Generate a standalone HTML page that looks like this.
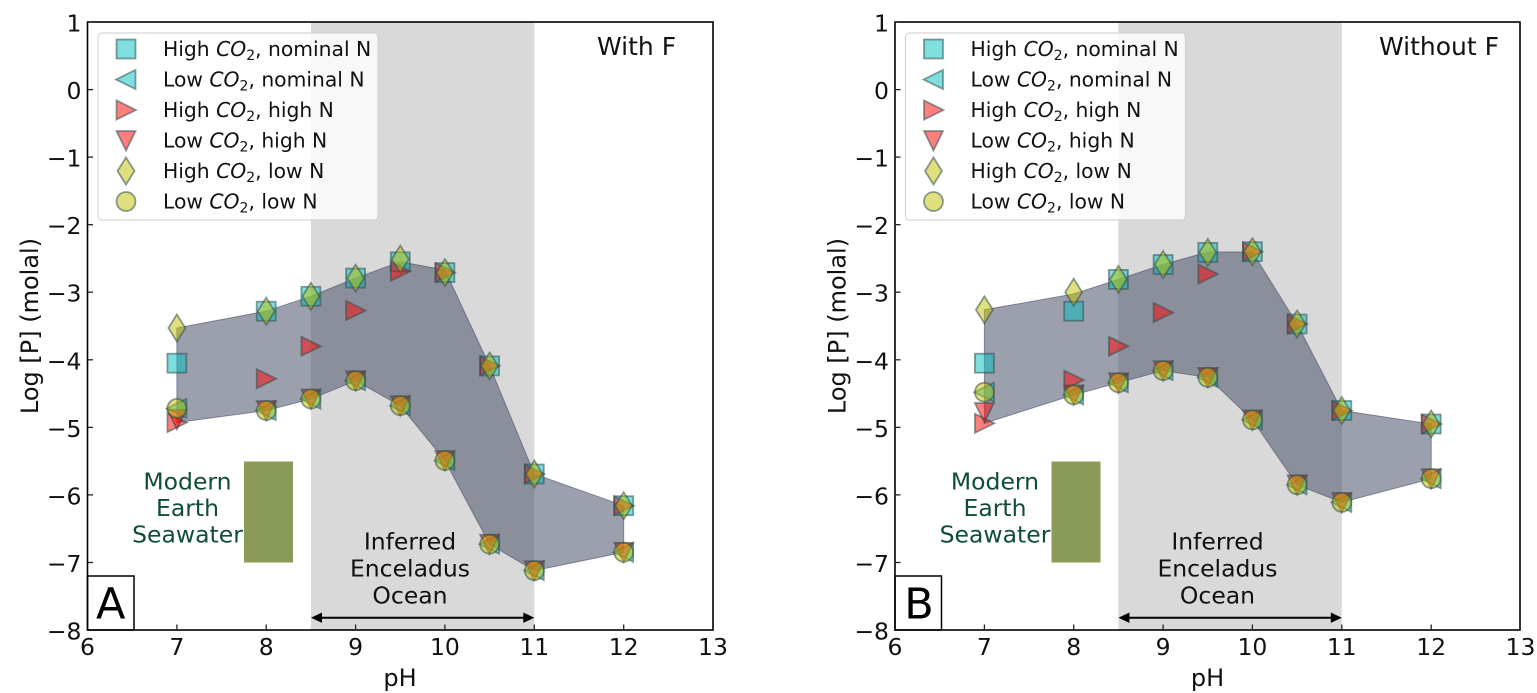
<!DOCTYPE html>
<html><head><meta charset="utf-8"><style>html,body{margin:0;padding:0;background:#fff}svg{display:block}</style></head>
<body>
<svg width="1537" height="693" viewBox="0 0 1537 693" xmlns="http://www.w3.org/2000/svg" font-family="'DejaVu Sans','Liberation Sans',sans-serif">
<defs>
<rect id="sq" x="-9.5" y="-9.5" width="19" height="19" fill="#00bfbf" fill-opacity="0.5" stroke="#2f4f4f" stroke-opacity="0.55" stroke-width="1.8"/>
<polygon id="lt" points="-10,0 9.5,-9.5 9.5,9.5" fill="#00bfbf" fill-opacity="0.5" stroke="#2f4f4f" stroke-opacity="0.55" stroke-width="1.8"/>
<polygon id="rt" points="10,0 -9.5,-9.5 -9.5,9.5" fill="#ff0000" fill-opacity="0.5" stroke="#2f4f4f" stroke-opacity="0.55" stroke-width="1.8"/>
<polygon id="dt" points="0,10 -9.5,-9.5 9.5,-9.5" fill="#ff0000" fill-opacity="0.5" stroke="#2f4f4f" stroke-opacity="0.55" stroke-width="1.8"/>
<polygon id="di" points="0,-13.5 8.5,0 0,13.5 -8.5,0" fill="#bfbf00" fill-opacity="0.5" stroke="#2f4f4f" stroke-opacity="0.55" stroke-width="1.8"/>
<circle id="ci" r="9.5" fill="#bfbf00" fill-opacity="0.5" stroke="#2f4f4f" stroke-opacity="0.55" stroke-width="1.8"/>
</defs>

<!-- ================= PANEL A ================= -->
<rect x="310.9" y="22" width="223.4" height="608" fill="#d9d9d9"/>
<rect x="244" y="461.5" width="49" height="101" fill="#8a9a58"/>
<polygon points="176.9,328 266.2,311.2 310.9,296.3 355.6,278.1 400.3,261.8 444.9,270 489.6,365.9 534.3,474 623.7,505.7 623.7,552.3 534.3,570.6 489.6,544.2 444.9,460.5 400.3,405.7 355.6,380.7 310.9,399 266.2,410.5 176.9,422.5" fill="#4a5068" fill-opacity="0.55" stroke="#4a5068" stroke-opacity="0.6" stroke-width="1"/>

<g>
<use href="#sq" x="176.9" y="363.2"/><use href="#lt" x="176.9" y="408.4"/><use href="#rt" x="176.9" y="422.5"/><use href="#dt" x="176.9" y="419.2"/><use href="#di" x="176.9" y="328"/><use href="#ci" x="176.9" y="408.4"/>
<use href="#sq" x="266.2" y="311.2"/><use href="#lt" x="266.2" y="410.5"/><use href="#rt" x="266.2" y="378.7"/><use href="#dt" x="266.2" y="410.5"/><use href="#di" x="266.2" y="311.2"/><use href="#ci" x="266.2" y="410.5"/>
<use href="#sq" x="310.9" y="296.3"/><use href="#lt" x="310.9" y="399"/><use href="#rt" x="310.9" y="346.3"/><use href="#dt" x="310.9" y="399"/><use href="#di" x="310.9" y="296.3"/><use href="#ci" x="310.9" y="399"/>
<use href="#sq" x="355.6" y="278.1"/><use href="#lt" x="355.6" y="380.7"/><use href="#rt" x="355.6" y="310.5"/><use href="#dt" x="355.6" y="380.7"/><use href="#di" x="355.6" y="278.1"/><use href="#ci" x="355.6" y="380.7"/>
<use href="#sq" x="400.3" y="261.8"/><use href="#lt" x="400.3" y="405.7"/><use href="#rt" x="400.3" y="271.3"/><use href="#dt" x="400.3" y="405.7"/><use href="#di" x="400.3" y="259.1"/><use href="#ci" x="400.3" y="405.7"/>
<use href="#sq" x="444.9" y="272.6"/><use href="#lt" x="444.9" y="460.5"/><use href="#rt" x="444.9" y="272.6"/><use href="#dt" x="444.9" y="460.5"/><use href="#di" x="444.9" y="272.6"/><use href="#ci" x="444.9" y="460.5"/>
<use href="#sq" x="489.6" y="365.9"/><use href="#lt" x="489.6" y="544.2"/><use href="#rt" x="489.6" y="365.9"/><use href="#dt" x="489.6" y="544.2"/><use href="#di" x="489.6" y="365.9"/><use href="#ci" x="489.6" y="544.2"/>
<use href="#sq" x="534.3" y="474"/><use href="#lt" x="534.3" y="570.6"/><use href="#rt" x="534.3" y="474"/><use href="#dt" x="534.3" y="570.6"/><use href="#di" x="534.3" y="474"/><use href="#ci" x="534.3" y="570.6"/>
<use href="#sq" x="623.7" y="505.7"/><use href="#lt" x="623.7" y="552.3"/><use href="#rt" x="623.7" y="505.7"/><use href="#dt" x="623.7" y="552.3"/><use href="#di" x="623.7" y="505.7"/><use href="#ci" x="623.7" y="552.3"/>
</g>

<g font-size="23.5" fill="#0f4d36" text-anchor="middle">
<text x="187.5" y="489.5">Modern</text>
<text x="187.5" y="516">Earth</text>
<text x="187.5" y="542.5">Seawater</text>
</g>
<g font-size="23.5" fill="#111" text-anchor="middle">
<text x="410" y="549.5">Inferred</text>
<text x="410" y="576.5">Enceladus</text>
<text x="410" y="603.5">Ocean</text>
</g>
<line x1="321" y1="617.7" x2="524" y2="617.7" stroke="#000" stroke-width="2"/>
<polygon points="311,617.7 322,612.5 322,622.9" fill="#000"/>
<polygon points="534.3,617.7 523.3,612.5 523.3,622.9" fill="#000"/>

<text x="597" y="55" font-size="25" fill="#111">With F</text>

<!-- legend A -->
<rect x="98" y="33" width="280" height="187" rx="4" fill="#fff" fill-opacity="0.8" stroke="#cccccc" stroke-width="1"/>
<use href="#sq" x="126" y="49"/>
<use href="#lt" x="126" y="79.5"/>
<use href="#rt" x="126" y="110"/>
<use href="#dt" x="126" y="140.5"/>
<use href="#di" x="126" y="171"/>
<use href="#ci" x="126" y="201.5"/>
<g font-size="20.3" fill="#111">
<text x="163" y="56">High <tspan font-style="italic">CO</tspan><tspan font-size="14" dy="4">2</tspan><tspan dy="-4">, nominal N</tspan></text>
<text x="163" y="86.5">Low <tspan font-style="italic">CO</tspan><tspan font-size="14" dy="4">2</tspan><tspan dy="-4">, nominal N</tspan></text>
<text x="163" y="117">High <tspan font-style="italic">CO</tspan><tspan font-size="14" dy="4">2</tspan><tspan dy="-4">, high N</tspan></text>
<text x="163" y="147.5">Low <tspan font-style="italic">CO</tspan><tspan font-size="14" dy="4">2</tspan><tspan dy="-4">, high N</tspan></text>
<text x="163" y="178">High <tspan font-style="italic">CO</tspan><tspan font-size="14" dy="4">2</tspan><tspan dy="-4">, low N</tspan></text>
<text x="163" y="208.5">Low <tspan font-style="italic">CO</tspan><tspan font-size="14" dy="4">2</tspan><tspan dy="-4">, low N</tspan></text>
</g>

<!-- A label box -->
<rect x="87.5" y="576" width="46.5" height="54" fill="#fff" stroke="#000" stroke-width="1.5"/>
<text x="110.7" y="618.5" font-size="43" text-anchor="middle" fill="#000">A</text>

<!-- axes A -->
<rect x="87.5" y="22" width="625.5" height="608" fill="none" stroke="#000" stroke-width="1.6"/>
<g stroke="#222" stroke-width="1.3">
<line x1="87.5" y1="22" x2="93" y2="22"/><line x1="87.5" y1="89.6" x2="93" y2="89.6"/><line x1="87.5" y1="157.1" x2="93" y2="157.1"/><line x1="87.5" y1="224.7" x2="93" y2="224.7"/><line x1="87.5" y1="292.2" x2="93" y2="292.2"/><line x1="87.5" y1="359.8" x2="93" y2="359.8"/><line x1="87.5" y1="427.4" x2="93" y2="427.4"/><line x1="87.5" y1="494.9" x2="93" y2="494.9"/><line x1="87.5" y1="562.5" x2="93" y2="562.5"/>
<line x1="176.9" y1="630" x2="176.9" y2="624.5"/><line x1="266.2" y1="630" x2="266.2" y2="624.5"/><line x1="355.6" y1="630" x2="355.6" y2="624.5"/><line x1="444.9" y1="630" x2="444.9" y2="624.5"/><line x1="534.3" y1="630" x2="534.3" y2="624.5"/><line x1="623.7" y1="630" x2="623.7" y2="624.5"/>
</g>
<g font-size="23.5" fill="#111" text-anchor="end">
<text x="81.5" y="31.5">1</text><text x="81.5" y="99.1">0</text><text x="81.5" y="166.6">−1</text><text x="81.5" y="234.2">−2</text><text x="81.5" y="301.7">−3</text><text x="81.5" y="369.3">−4</text><text x="81.5" y="436.9">−5</text><text x="81.5" y="504.4">−6</text><text x="81.5" y="572">−7</text><text x="81.5" y="639.5">−8</text>
</g>
<g font-size="23.5" fill="#111" text-anchor="middle">
<text x="87.5" y="655">6</text><text x="176.9" y="655">7</text><text x="266.2" y="655">8</text><text x="355.6" y="655">9</text><text x="444.9" y="655">10</text><text x="534.3" y="655">11</text><text x="623.7" y="655">12</text><text x="713" y="655">13</text>
</g>
<text x="400" y="686" font-size="24" fill="#111" text-anchor="middle">pH</text>
<text transform="translate(38,326) rotate(-90)" font-size="24" fill="#111" text-anchor="middle">Log [P] (molal)</text>

<!-- ================= PANEL B ================= -->
<rect x="1118.4" y="22" width="223.4" height="608" fill="#d9d9d9"/>
<rect x="1051.5" y="461.5" width="49" height="101" fill="#8a9a58"/>
<polygon points="984.4,309.8 1073.7,294 1118.4,279.4 1163.1,264.5 1207.8,252 1252.4,252 1297.1,324 1341.8,410.5 1431.2,424 1431.2,478.7 1341.8,502.4 1297.1,484.8 1252.4,419.9 1207.8,377.4 1163.1,370.6 1118.4,382.8 1073.7,394.9 984.4,423.3" fill="#4a5068" fill-opacity="0.55" stroke="#4a5068" stroke-opacity="0.6" stroke-width="1"/>

<g>
<use href="#sq" x="984.4" y="363.2"/><use href="#lt" x="984.4" y="392.2"/><use href="#rt" x="984.4" y="423.3"/><use href="#dt" x="984.4" y="412.5"/><use href="#di" x="984.4" y="309.8"/><use href="#ci" x="984.4" y="392.2"/>
<use href="#sq" x="1073.7" y="311.2"/><use href="#lt" x="1073.7" y="394.9"/><use href="#rt" x="1073.7" y="380.1"/><use href="#dt" x="1073.7" y="394.9"/><use href="#di" x="1073.7" y="292.2"/><use href="#ci" x="1073.7" y="394.9"/>
<use href="#sq" x="1118.4" y="279.4"/><use href="#lt" x="1118.4" y="382.8"/><use href="#rt" x="1118.4" y="346.3"/><use href="#dt" x="1118.4" y="382.8"/><use href="#di" x="1118.4" y="279.4"/><use href="#ci" x="1118.4" y="382.8"/>
<use href="#sq" x="1163.1" y="264.5"/><use href="#lt" x="1163.1" y="370.6"/><use href="#rt" x="1163.1" y="312.5"/><use href="#dt" x="1163.1" y="370.6"/><use href="#di" x="1163.1" y="264.5"/><use href="#ci" x="1163.1" y="370.6"/>
<use href="#sq" x="1207.8" y="252.4"/><use href="#lt" x="1207.8" y="377.4"/><use href="#rt" x="1207.8" y="274"/><use href="#dt" x="1207.8" y="377.4"/><use href="#di" x="1207.8" y="252.4"/><use href="#ci" x="1207.8" y="377.4"/>
<use href="#sq" x="1252.4" y="251.7"/><use href="#lt" x="1252.4" y="419.9"/><use href="#rt" x="1252.4" y="251.7"/><use href="#dt" x="1252.4" y="419.9"/><use href="#di" x="1252.4" y="251.7"/><use href="#ci" x="1252.4" y="419.9"/>
<use href="#sq" x="1297.1" y="324"/><use href="#lt" x="1297.1" y="484.8"/><use href="#rt" x="1297.1" y="324"/><use href="#dt" x="1297.1" y="484.8"/><use href="#di" x="1297.1" y="324"/><use href="#ci" x="1297.1" y="484.8"/>
<use href="#sq" x="1341.8" y="410.5"/><use href="#lt" x="1341.8" y="502.4"/><use href="#rt" x="1341.8" y="410.5"/><use href="#dt" x="1341.8" y="502.4"/><use href="#di" x="1341.8" y="410.5"/><use href="#ci" x="1341.8" y="502.4"/>
<use href="#sq" x="1431.2" y="424"/><use href="#lt" x="1431.2" y="478.7"/><use href="#rt" x="1431.2" y="424"/><use href="#dt" x="1431.2" y="478.7"/><use href="#di" x="1431.2" y="424"/><use href="#ci" x="1431.2" y="478.7"/>
</g>

<g font-size="23.5" fill="#0f4d36" text-anchor="middle">
<text x="995" y="489.5">Modern</text>
<text x="995" y="516">Earth</text>
<text x="995" y="542.5">Seawater</text>
</g>
<g font-size="23.5" fill="#111" text-anchor="middle">
<text x="1217.5" y="549.5">Inferred</text>
<text x="1217.5" y="576.5">Enceladus</text>
<text x="1217.5" y="603.5">Ocean</text>
</g>
<line x1="1128.5" y1="617.7" x2="1331.5" y2="617.7" stroke="#000" stroke-width="2"/>
<polygon points="1118.4,617.7 1129.4,612.5 1129.4,622.9" fill="#000"/>
<polygon points="1341.8,617.7 1330.8,612.5 1330.8,622.9" fill="#000"/>

<text x="1379" y="55" font-size="25" fill="#111">Without F</text>

<!-- legend B -->
<rect x="905.5" y="33" width="280" height="187" rx="4" fill="#fff" fill-opacity="0.8" stroke="#cccccc" stroke-width="1"/>
<use href="#sq" x="933.5" y="49"/>
<use href="#lt" x="933.5" y="79.5"/>
<use href="#rt" x="933.5" y="110"/>
<use href="#dt" x="933.5" y="140.5"/>
<use href="#di" x="933.5" y="171"/>
<use href="#ci" x="933.5" y="201.5"/>
<g font-size="20.3" fill="#111">
<text x="970.5" y="56">High <tspan font-style="italic">CO</tspan><tspan font-size="14" dy="4">2</tspan><tspan dy="-4">, nominal N</tspan></text>
<text x="970.5" y="86.5">Low <tspan font-style="italic">CO</tspan><tspan font-size="14" dy="4">2</tspan><tspan dy="-4">, nominal N</tspan></text>
<text x="970.5" y="117">High <tspan font-style="italic">CO</tspan><tspan font-size="14" dy="4">2</tspan><tspan dy="-4">, high N</tspan></text>
<text x="970.5" y="147.5">Low <tspan font-style="italic">CO</tspan><tspan font-size="14" dy="4">2</tspan><tspan dy="-4">, high N</tspan></text>
<text x="970.5" y="178">High <tspan font-style="italic">CO</tspan><tspan font-size="14" dy="4">2</tspan><tspan dy="-4">, low N</tspan></text>
<text x="970.5" y="208.5">Low <tspan font-style="italic">CO</tspan><tspan font-size="14" dy="4">2</tspan><tspan dy="-4">, low N</tspan></text>
</g>

<!-- B label box -->
<rect x="895" y="576" width="46.5" height="54" fill="#fff" stroke="#000" stroke-width="1.5"/>
<text x="919" y="618.5" font-size="43" text-anchor="middle" fill="#000">B</text>

<!-- axes B -->
<rect x="895" y="22" width="625" height="608" fill="none" stroke="#000" stroke-width="1.6"/>
<g stroke="#222" stroke-width="1.3">
<line x1="895" y1="22" x2="900.5" y2="22"/><line x1="895" y1="89.6" x2="900.5" y2="89.6"/><line x1="895" y1="157.1" x2="900.5" y2="157.1"/><line x1="895" y1="224.7" x2="900.5" y2="224.7"/><line x1="895" y1="292.2" x2="900.5" y2="292.2"/><line x1="895" y1="359.8" x2="900.5" y2="359.8"/><line x1="895" y1="427.4" x2="900.5" y2="427.4"/><line x1="895" y1="494.9" x2="900.5" y2="494.9"/><line x1="895" y1="562.5" x2="900.5" y2="562.5"/>
<line x1="984.4" y1="630" x2="984.4" y2="624.5"/><line x1="1073.7" y1="630" x2="1073.7" y2="624.5"/><line x1="1163.1" y1="630" x2="1163.1" y2="624.5"/><line x1="1252.4" y1="630" x2="1252.4" y2="624.5"/><line x1="1341.8" y1="630" x2="1341.8" y2="624.5"/><line x1="1431.2" y1="630" x2="1431.2" y2="624.5"/>
</g>
<g font-size="23.5" fill="#111" text-anchor="end">
<text x="889" y="31.5">1</text><text x="889" y="99.1">0</text><text x="889" y="166.6">−1</text><text x="889" y="234.2">−2</text><text x="889" y="301.7">−3</text><text x="889" y="369.3">−4</text><text x="889" y="436.9">−5</text><text x="889" y="504.4">−6</text><text x="889" y="572">−7</text><text x="889" y="639.5">−8</text>
</g>
<g font-size="23.5" fill="#111" text-anchor="middle">
<text x="895" y="655">6</text><text x="984.4" y="655">7</text><text x="1073.7" y="655">8</text><text x="1163.1" y="655">9</text><text x="1252.4" y="655">10</text><text x="1341.8" y="655">11</text><text x="1431.2" y="655">12</text><text x="1520.5" y="655">13</text>
</g>
<text x="1207.5" y="686" font-size="24" fill="#111" text-anchor="middle">pH</text>
<text transform="translate(845.5,326) rotate(-90)" font-size="24" fill="#111" text-anchor="middle">Log [P] (molal)</text>
</svg>
</body></html>
